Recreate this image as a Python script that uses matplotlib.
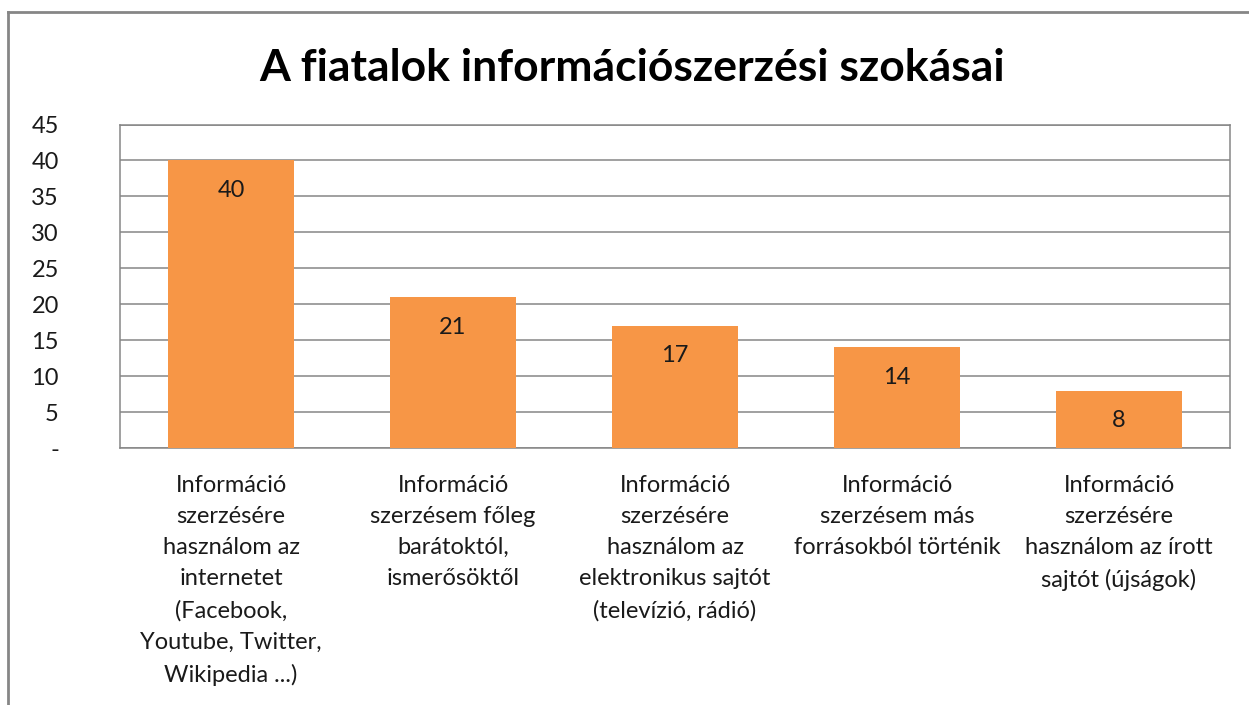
import matplotlib
matplotlib.use("Agg")
import matplotlib.pyplot as plt
import matplotlib.ticker as ticker
from matplotlib.lines import Line2D
from matplotlib.transforms import blended_transform_factory

categories = [
    "Információ\nszerzésére\nhasználom az\ninternetet\n(Facebook,\nYoutube, Twitter,\nWikipedia ...)",
    "Információ\nszerzésem főleg\nbarátoktól,\nismerősöktől",
    "Információ\nszerzésére\nhasználom az\nelektronikus sajtót\n(televízió, rádió)",
    "Információ\nszerzésem más\nforrásokból történik",
    "Információ\nszerzésére\nhasználom az írott\nsajtót (újságok)",
]
values = [40, 21, 17, 14, 8]
yticks = [0, 5, 10, 15, 20, 25, 30, 35, 40, 45]
ytick_labels = ["-", "5", "10", "15", "20", "25", "30", "35", "40", "45"]
title = "A fiatalok információszerzési szokásai"

plt.rcParams['font.family'] = ['Lato', 'DejaVu Sans']

fig = plt.figure(figsize=(12.49, 7.05), dpi=100)
ax = fig.add_axes([0.0961, 0.3645, 0.8887, 0.4589])

x = list(range(len(values)))
ax.bar(x, values, width=0.57, color="#F79646", zorder=3)
ax.set_xlim(-0.5, len(values) - 0.5)
ax.set_ylim(0, 45)
ax.set_yticks(yticks)
ax.set_yticklabels(ytick_labels, fontsize=17, color="#1a1a1a")
ax.tick_params(axis="y", length=0, pad=44)
ax.set_xticks([])
ax.yaxis.grid(True, color="#868686", lw=1.1, zorder=1)
for s in ax.spines.values():
    s.set_color("#868686")
    s.set_linewidth(1.1)

for xi, v in zip(x, values):
    ax.annotate(str(v), (xi, v), xytext=(0, -21.6), textcoords="offset points",
                ha="center", va="center", fontsize=17, color="#1a1a1a", zorder=4)

trans = blended_transform_factory(ax.transData, ax.transAxes)
for xi, c in zip(x, categories):
    ax.text(xi, -0.083, c, transform=trans, ha="center", va="top",
            fontsize=17, color="#1a1a1a", linespacing=1.6)

fig.text(0.506, 0.903, title, ha="center", va="center", fontsize=32,
         fontweight="bold", color="black")

# outer chart border (left and top visible)
fig.add_artist(Line2D([8 / 1249, 8 / 1249], [0, 1 - 12 / 705], transform=fig.transFigure,
                      color="#868686", lw=2))
fig.add_artist(Line2D([8 / 1249, 1], [1 - 12 / 705, 1 - 12 / 705], transform=fig.transFigure,
                      color="#868686", lw=2))

plt.savefig("out.png", dpi=100)
